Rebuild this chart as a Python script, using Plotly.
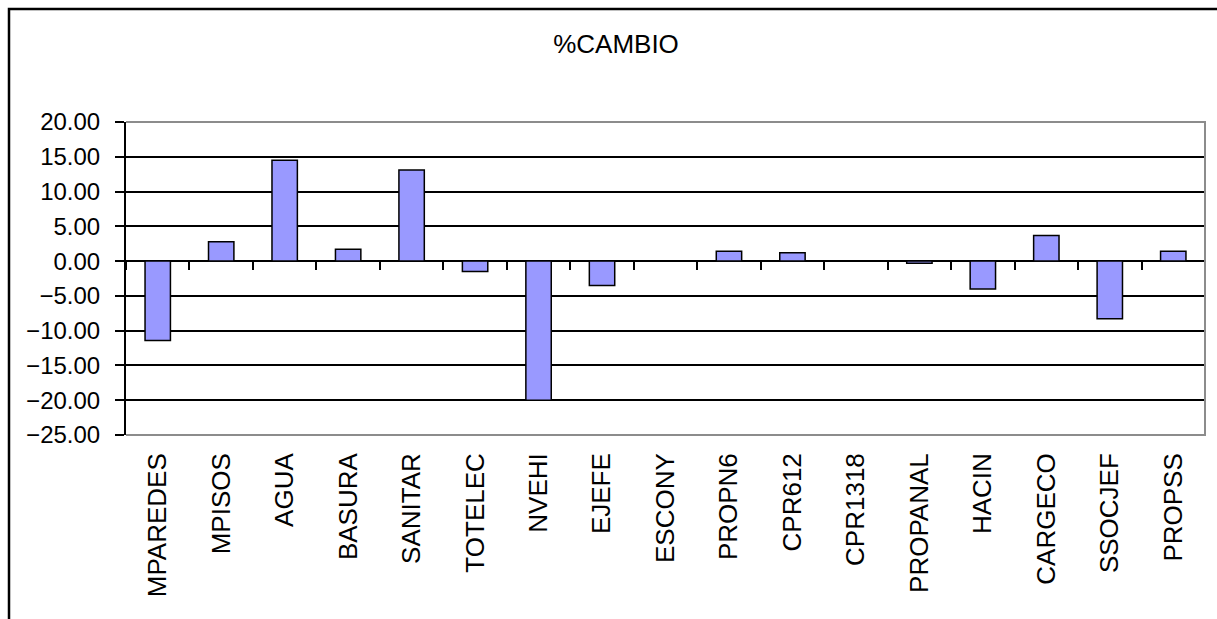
import plotly.graph_objects as go

categories = ["MPAREDES", "MPISOS", "AGUA", "BASURA", "SANITAR", "TOTELEC", "NVEHI",
              "EJEFE", "ESCONY", "PROPN6", "CPR612", "CPR1318", "PROPANAL", "HACIN",
              "CARGECO", "SSOCJEF", "PROPSS"]
cambio = [-11.4, 2.8, 14.5, 1.7, 13.1, -1.5, -20.0, -3.5, 0.0, 1.4, 1.2, 0.0, -0.3,
          -4.0, 3.7, -8.3, 1.4]
title_text = "%CAMBIO"
y_min, y_max, y_step = -25, 20, 5

W, H = 1217, 619
ML, MT = 126, 122
MR = W - 1205
MB = H - 435
PW, PH = W - ML - MR, H - MT - MB
FONT = "Liberation Sans, Arial, sans-serif"


def px_x(p):
    return (p - ML) / PW


def px_y(p):
    return 1 - (p - MT) / PH


fig = go.Figure()
fig.add_trace(go.Bar(
    x=categories, y=cambio, width=0.4,
    marker=dict(color="#9999FF", line=dict(color="black", width=1.5)),
    hoverinfo="x+y", showlegend=False,
))
# invisible trace carrying the category axis drawn at zero (tick marks between categories)
fig.add_trace(go.Bar(
    x=categories, y=cambio, xaxis="x2", opacity=0, hoverinfo="skip", showlegend=False,
))

zero_pos = (0 - y_min) / (y_max - y_min)

fig.update_layout(
    width=W, height=H,
    margin=dict(l=ML, r=MR, t=MT, b=MB, autoexpand=False),
    paper_bgcolor="white", plot_bgcolor="white",
    font=dict(family=FONT, size=24, color="black"),
    title=dict(text=title_text, x=616 / W, xref="container", xanchor="center",
               y=1 - 44 / H, yref="container", yanchor="middle",
               font=dict(family=FONT, size=26, color="black")),
    bargap=0.6,
    xaxis=dict(
        type="category", range=[-0.5, len(categories) - 0.5],
        tickangle=-90, ticks="", showgrid=False, showline=False, zeroline=False,
        tickfont=dict(family=FONT, size=26, color="black"),
        ticklabelstandoff=12,
    ),
    xaxis2=dict(
        type="category", overlaying="x", anchor="free", position=zero_pos, side="bottom",
        range=[-0.5, len(categories) - 0.5],
        ticks="outside", tickson="boundaries", ticklen=8, tickwidth=1.5, tickcolor="black",
        showticklabels=False, showgrid=False, showline=False, zeroline=False,
    ),
    yaxis=dict(
        range=[y_min, y_max], dtick=y_step, tick0=0, tickformat=".2f",
        showgrid=True, gridcolor="black", gridwidth=1.5,
        zeroline=True, zerolinecolor="black", zerolinewidth=1.5,
        showline=True, linecolor="black", linewidth=2,
        ticks="outside", ticklen=9, tickwidth=1.5, tickcolor="black",
        tickfont=dict(family=FONT, size=24, color="black"),
        ticklabelstandoff=10,
    ),
    shapes=[
        # plot-area border (top, right, bottom) in gray
        dict(type="path", xref="paper", yref="paper", path="M 0,1 L 1,1 L 1,0 L 0,0",
             line=dict(color="#8c8c8c", width=2), layer="above"),
        # outer chart frame (left and top visible)
        dict(type="path", xref="paper", yref="paper",
             path=f"M {px_x(9)},{px_y(640)} L {px_x(9)},{px_y(9)} L {px_x(1240)},{px_y(9)}",
             line=dict(color="black", width=2.5), layer="above"),
    ],
)

fig.write_html(
    "out.html",
    config={"displayModeBar": False},
    post_script="document.body.style.margin='0';document.body.style.overflow='hidden';",
)
